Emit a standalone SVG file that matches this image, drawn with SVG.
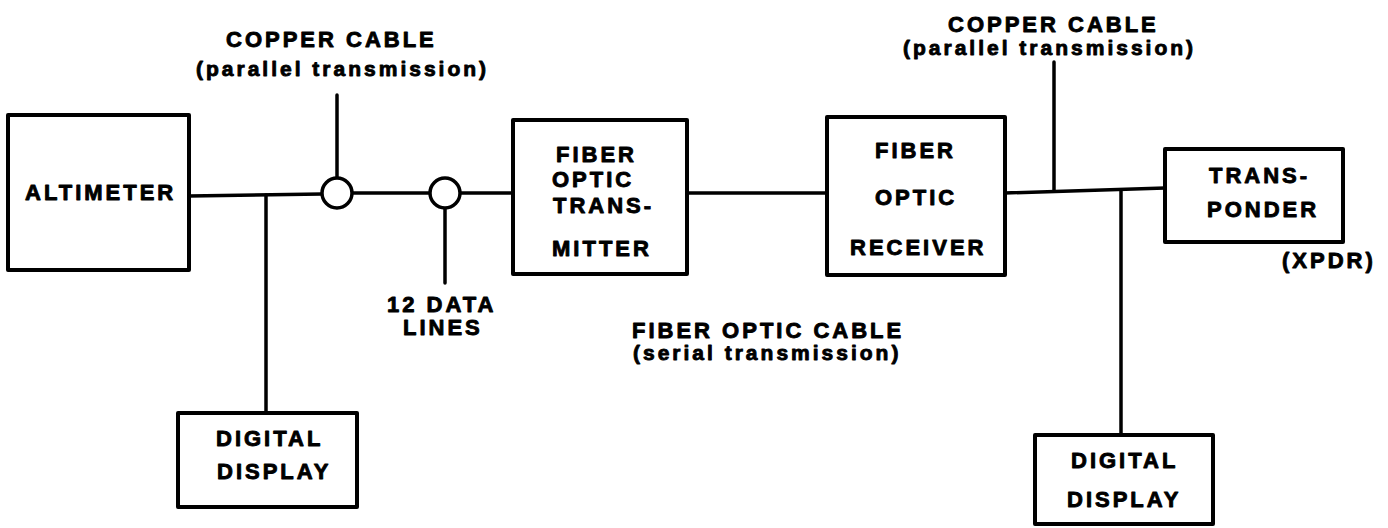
<svg xmlns="http://www.w3.org/2000/svg" width="1388" height="528" viewBox="0 0 1388 528">
<style>
.box{fill:#fff;stroke:#000;stroke-width:4;stroke-linejoin:round}
.ln{fill:none;stroke:#000;stroke-width:3.5;stroke-linecap:round}
.ring{fill:#fff;stroke:#000;stroke-width:3.5}
text{font-family:"Liberation Sans",Arial,sans-serif;font-weight:bold;fill:#000;stroke:#000;stroke-width:0.9;stroke-linejoin:round}
.u{font-size:22px;letter-spacing:3px}
.l{font-size:21px;letter-spacing:3px}
</style>
<rect width="1388" height="528" fill="#fff"/>
<g id="connectors">
<line class="ln" x1="189" y1="196" x2="322" y2="194"/>
<line class="ln" x1="266" y1="195" x2="266" y2="413"/>
<line class="ln" x1="352" y1="193" x2="430" y2="193"/>
<line class="ln" x1="460" y1="193" x2="513" y2="193"/>
<line class="ln" x1="337" y1="95" x2="337" y2="178"/>
<line class="ln" x1="445" y1="208" x2="445" y2="283"/>
<line class="ln" x1="687" y1="193" x2="827" y2="193"/>
<line class="ln" x1="1005" y1="193" x2="1165" y2="188"/>
<line class="ln" x1="1054" y1="62" x2="1054" y2="191"/>
<line class="ln" x1="1121" y1="190" x2="1121" y2="435"/>
</g>
<g id="splice1"><circle class="ring" cx="337" cy="193" r="15"/></g>
<g id="splice2"><circle class="ring" cx="445" cy="193" r="15"/></g>
<g id="altimeter">
<rect class="box" x="8" y="115" width="181" height="155"/>
<text class="u" x="25" y="200">ALTIMETER</text>
</g>
<g id="display-left">
<rect class="box" x="178" y="413" width="179" height="94"/>
<text class="u" x="216" y="446">DIGITAL</text>
<text class="u" x="217" y="479">DISPLAY</text>
</g>
<g id="transmitter">
<rect class="box" x="513" y="120" width="174" height="154"/>
<text class="u" x="556" y="162">FIBER</text>
<text class="u" x="552" y="187">OPTIC</text>
<text class="u" x="553" y="213">TRANS-</text>
<text class="u" x="552" y="256">MITTER</text>
</g>
<g id="receiver">
<rect class="box" x="827" y="117" width="178" height="158"/>
<text class="u" x="875" y="158">FIBER</text>
<text class="u" x="875" y="205">OPTIC</text>
<text class="u" x="850" y="255">RECEIVER</text>
</g>
<g id="transponder">
<rect class="box" x="1165" y="149" width="178" height="93"/>
<text class="u" x="1209" y="183">TRANS-</text>
<text class="u" x="1207" y="217">PONDER</text>
<text class="u" x="1282" y="268">(XPDR)</text>
</g>
<g id="display-right">
<rect class="box" x="1035" y="435" width="178" height="89"/>
<text class="u" x="1071" y="468">DIGITAL</text>
<text class="u" x="1067" y="507">DISPLAY</text>
</g>
<g id="labels">
<text class="u" x="226" y="47">COPPER CABLE</text>
<text class="l" x="196" y="76">(parallel transmission)</text>
<text class="u" x="387" y="312">12 DATA</text>
<text class="u" x="403" y="335">LINES</text>
<text class="u" x="632" y="338">FIBER OPTIC CABLE</text>
<text class="l" x="633" y="360">(serial transmission)</text>
<text class="u" x="948" y="32">COPPER CABLE</text>
<text class="l" x="903" y="55">(parallel transmission)</text>
</g>
</svg>
